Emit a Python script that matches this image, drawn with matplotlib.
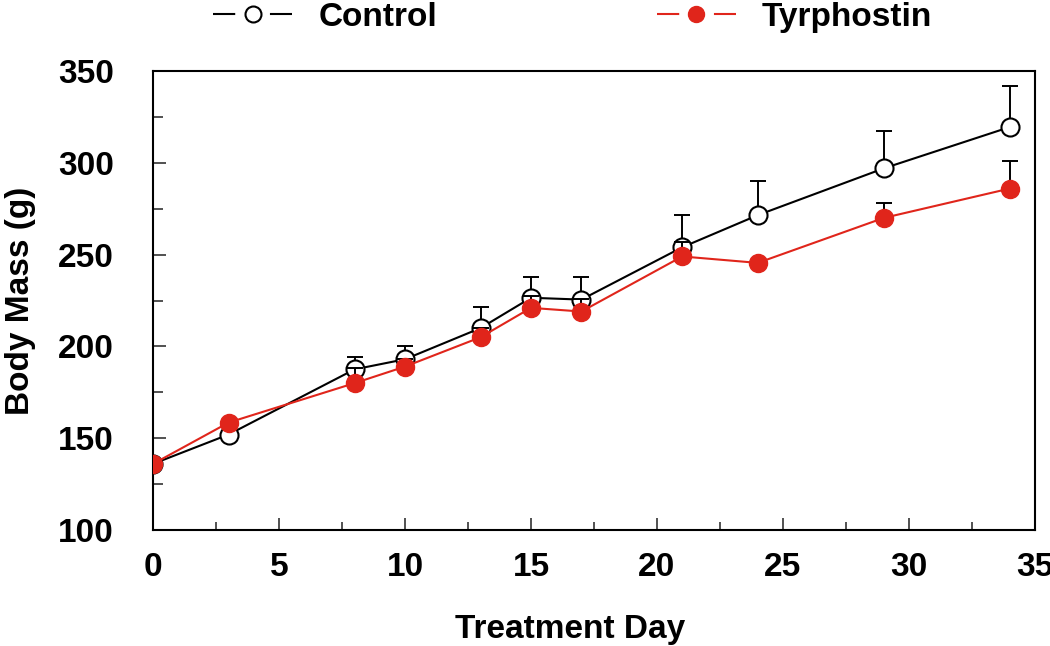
import numpy as np
import matplotlib
matplotlib.use("Agg")
import matplotlib.pyplot as plt
import matplotlib.ticker as mticker
from matplotlib.lines import Line2D

plt.rcParams.update({
    "font.family": ["Liberation Sans", "DejaVu Sans"],
    "font.weight": "bold",
    "font.size": 24,
    "lines.scale_dashes": False,
})

RED = "#e0251b"

days = [0, 3, 8, 10, 13, 15, 17, 21, 24, 29, 34]
control_mean = [136, 152, 187.5, 193, 210, 226.5, 225.5, 254, 271.5, 297, 319.5]
control_upper = [136, 152, 194, 200, 221.5, 238, 238, 271.5, 290, 317.5, 342]
tyr_mean = [136, 158.5, 180, 189, 205, 221, 219, 249, 245.5, 270, 286]
tyr_upper = [136, 158.5, 188.5, 193, 210, 227.5, 226, 257, 245.5, 278, 301]

control_err = np.array(control_upper) - np.array(control_mean)
tyr_err = np.array(tyr_upper) - np.array(tyr_mean)

fig = plt.figure(figsize=(10.5, 6.46), dpi=100)
ax = fig.add_axes([0.1457, 0.1796, 0.84, 0.7104])

# control: error bars behind, open circles with white face
ax.errorbar(days, control_mean, yerr=[np.zeros(len(days)), control_err],
            fmt="none", ecolor="black", elinewidth=1.4, capsize=6, capthick=1.4,
            zorder=1)
ax.plot(days, control_mean, color="black", lw=1.5, marker="o", ms=13,
        mfc="white", mec="black", mew=1.5, zorder=2)

# tyrphostin: error bars drawn over the control circles, red dots on top
ax.errorbar(days, tyr_mean, yerr=[np.zeros(len(days)), tyr_err],
            fmt="none", ecolor="black", elinewidth=1.4, capsize=6, capthick=1.4,
            zorder=3)
ax.plot(days, tyr_mean, color=RED, lw=1.5, marker="o", ms=13,
        mfc=RED, mec=RED, zorder=4)

ax.set_xlim(0, 35)
ax.set_ylim(100, 350)
ax.xaxis.set_major_locator(mticker.MultipleLocator(5))
ax.xaxis.set_minor_locator(mticker.MultipleLocator(2.5))
ax.yaxis.set_major_locator(mticker.MultipleLocator(50))
ax.yaxis.set_minor_locator(mticker.MultipleLocator(25))
ax.tick_params(which="both", direction="in", width=1.2, color="#333333")
ax.tick_params(axis="x", which="major", length=9, pad=16)
ax.tick_params(axis="x", which="minor", length=6)
ax.tick_params(axis="y", which="major", length=9, pad=28)
ax.tick_params(axis="y", which="minor", length=7.5)
for sp in ax.spines.values():
    sp.set_linewidth(1.5)

ax.set_xlabel("Treatment Day", fontweight="bold", labelpad=22)
ax.xaxis.label.set_x(0.473)
ax.set_ylabel("Body Mass (g)", fontweight="bold", labelpad=16)

# legend handles: short line, gap, marker, gap, short line
h_control = (Line2D([], [], color="black", lw=1.5, dashes=(16, 25, 16, 1)),
             Line2D([], [], ls="none", marker="o", ms=11.5, mfc="white",
                    mec="black", mew=1.5))
h_tyr = (Line2D([], [], color=RED, lw=1.5, dashes=(16, 25, 16, 1)),
         Line2D([], [], ls="none", marker="o", ms=11.5, mfc=RED, mec=RED))
fig.legend([h_control, h_tyr], ["Control", "Tyrphostin"], ncol=2,
           loc="center left", bbox_to_anchor=(0.203, 0.973), frameon=False,
           handlelength=2.37, handletextpad=0.78, columnspacing=6.6,
           borderpad=0, borderaxespad=0)

fig.savefig("out.png", dpi=100)
